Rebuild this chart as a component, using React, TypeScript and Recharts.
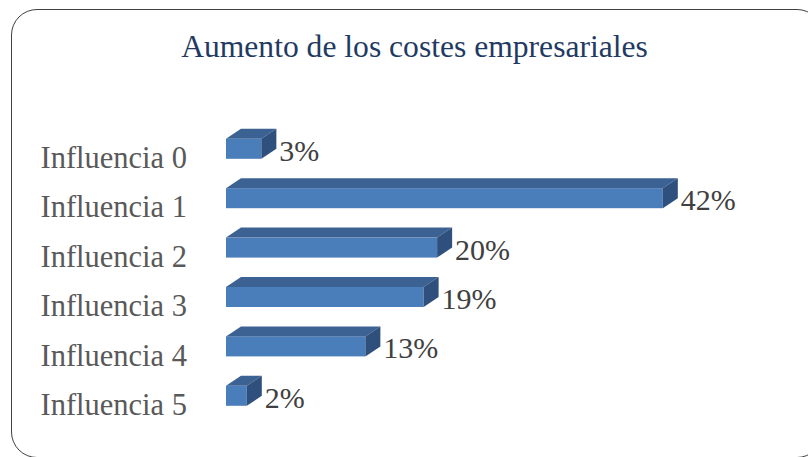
import { BarChart, Bar, XAxis, YAxis, LabelList } from 'recharts'

const categories = ['Influencia 0', 'Influencia 1', 'Influencia 2', 'Influencia 3', 'Influencia 4', 'Influencia 5']
const values = [3.4, 42.0, 20.3, 19.0, 13.4, 2.0]
const title = 'Aumento de los costes empresariales'

const data = categories.map((name, i) => ({ name, value: values[i] }))

const FONT = '"Liberation Serif", "Times New Roman", serif'
const DX = 15
const DY = 10

// 3D-looking bar: front face, top face and right side face
function Bar3D(props: any) {
  const { x, y, width, height } = props
  if (width == null || height == null) return null
  const r = x + width
  return (
    <g>
      <rect x={x} y={y} width={width} height={height} fill="#4A7EBB" />
      <polygon
        points={`${x},${y} ${x + DX},${y - DY} ${r + DX},${y - DY} ${r},${y}`}
        fill="#3C6193"
      />
      <polygon
        points={`${r},${y} ${r + DX},${y - DY} ${r + DX},${y + height - DY} ${r},${y + height}`}
        fill="#2F4F7C"
      />
    </g>
  )
}

function ValueLabel(props: any) {
  const { x, y, width, height, value } = props
  return (
    <text
      x={x + width + DX + 3}
      y={y + height / 2 + 12}
      fill="#404040"
      fontSize={30}
      fontFamily={FONT}
      textAnchor="start"
    >
      {`${Math.round(value)}%`}
    </text>
  )
}

function CategoryTick(props: any) {
  const { x, y, payload } = props
  return (
    <text x={x} y={y + 19.5} fill="#595959" fontSize={30.5} fontFamily={FONT} textAnchor="end">
      {payload.value}
    </text>
  )
}

export default function App() {
  return (
    <div
      style={{
        position: 'absolute',
        left: 0,
        top: 0,
        width: 808,
        height: 457,
        overflow: 'hidden',
        background: '#fff',
      }}
    >
      <div
        style={{
          position: 'absolute',
          left: 11,
          top: 9,
          width: 812,
          height: 449,
          border: '1.5px solid #404040',
          borderRadius: 26,
          boxSizing: 'border-box',
        }}
      />
      <svg width={808} height={100} style={{ position: 'absolute', left: 0, top: 0 }}>
        <text x={414.5} y={57} textAnchor="middle" fill="#1F3B63" fontSize={31.6} fontFamily={FONT}>
          {title}
        </text>
      </svg>
      <div style={{ position: 'absolute', left: 0, top: 0 }}>
        <BarChart
          width={808}
          height={457}
          data={data}
          layout="vertical"
          margin={{ top: 123.8, right: 114, bottom: 36.8, left: 0 }}
        >
          <XAxis type="number" domain={[0, 45]} hide />
          <YAxis
            type="category"
            dataKey="name"
            width={226}
            axisLine={false}
            tickLine={false}
            tickSize={0}
            tickMargin={39}
            tick={<CategoryTick />}
          />
          <Bar dataKey="value" barSize={20} shape={<Bar3D />} isAnimationActive={false}>
            <LabelList dataKey="value" content={<ValueLabel />} />
          </Bar>
        </BarChart>
      </div>
    </div>
  )
}
